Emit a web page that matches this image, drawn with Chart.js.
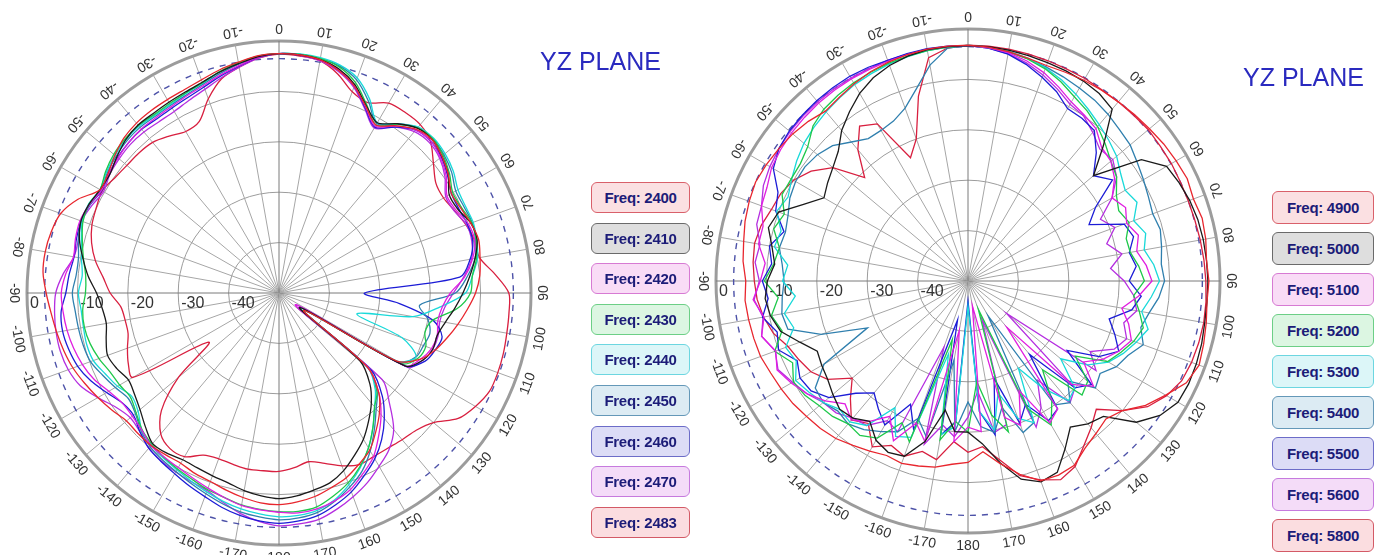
<!DOCTYPE html>
<html>
<head>
<meta charset="utf-8">
<script src="https://cdn.jsdelivr.net/npm/chart.js@4.4.1/dist/chart.umd.min.js"></script>
<style>
  html, body { margin: 0; padding: 0; overflow: hidden; background: #fff; }
  body { width: 1384px; height: 555px; position: relative; }
  .plot { position: absolute; width: 560px; height: 560px; }
  .title { position: absolute; font: 25px "Liberation Sans", Arial, sans-serif; color: #2a2abf; white-space: nowrap; }
  .key { position: absolute; box-sizing: border-box; border: 1.5px solid; border-radius: 6px;
         font: bold 15px "Liberation Sans Narrow", "Liberation Sans", sans-serif; color: #1c1c78;
         display: flex; align-items: center; justify-content: center; letter-spacing: -0.3px; }
</style>
</head>
<body>
<div class="plot" id="leftBox" style="left:-1px; top:13px;"><canvas id="leftPlot" width="560" height="560"></canvas></div>
<div class="plot" id="rightBox" style="left:688px; top:1px;"><canvas id="rightPlot" width="560" height="560"></canvas></div>
<div class="title" style="left:540px; top:47px;">YZ PLANE</div>
<div class="title" style="left:1243px; top:63px;">YZ PLANE</div>
<div id="leftKeys"></div>
<div id="rightKeys"></div>

<script>
// Angle categories (degrees, clockwise from top), tick labels
const angles = Array.from({length: 72}, (_, i) => i * 5);
const angleTicks = [0,10,20,30,40,50,60,70,80,90,100,110,120,130,140,150,160,170,180,
                    -170,-160,-150,-140,-130,-120,-110,-100,-90,-80,-70,-60,-50,-40,-30,-20,-10];
const ringTicks = [0, -10, -20, -30, -40];
const dashLevel = -3.5;

// 2.4 GHz band, values in dB every 5 degrees (0..355)
const freqLeft = ['Freq: 2400','Freq: 2410','Freq: 2420','Freq: 2430','Freq: 2440','Freq: 2450','Freq: 2460','Freq: 2470','Freq: 2483'];
const f2400 = [-2.5,-2.6,-3.0,-4.3,-6.3,-9.2,-11.5,-9.5,-7.6,-7.0,-7.8,-9.0,
  -10.5,-10.2,-9.5,-9.0,-9.5,-10.0,-11.0,-12.5,-14.0,-15.5,-17.0,-19.0,
  -23.0,-44.0,-27.0,-22.0,-19.0,-16.5,-14.0,-12.5,-11.0,-10.0,-9.0,-8.4,
  -8.0,-8.2,-8.8,-9.5,-10.2,-10.5,-11.0,-10.8,-10.5,-10.5,-10.5,-9.5,
  -8.5,-7.5,-6.5,-5.8,-5.2,-4.6,-3.8,-3.0,-2.9,-3.2,-3.9,-6.0,
  -9.0,-8.6,-7.5,-6.5,-6.0,-5.8,-5.7,-5.5,-5.0,-4.2,-3.5,-2.7];
const f2410 = [-2.5,-2.6,-3.0,-4.0,-6.0,-9.0,-11.0,-9.0,-7.3,-7.0,-7.8,-9.0,
  -11.0,-10.8,-9.5,-9.3,-10.5,-12.0,-13.5,-15.0,-16.5,-17.5,-17.5,-18.5,
  -21.0,-45.0,-29.0,-24.5,-21.5,-19.0,-16.5,-14.5,-12.5,-11.0,-10.3,-9.6,
  -9.2,-9.6,-10.2,-11.0,-11.4,-11.7,-11.8,-11.2,-11.0,-12.5,-14.0,-15.0,
  -15.5,-14.5,-13.8,-14.5,-15.2,-14.8,-13.8,-12.0,-10.5,-9.0,-8.2,-8.4,
  -9.0,-9.0,-8.0,-7.0,-6.5,-6.5,-6.3,-6.0,-5.5,-4.6,-3.8,-2.9];
const f2420 = [-2.5,-2.6,-3.1,-4.2,-6.3,-9.3,-11.8,-9.5,-7.8,-7.4,-8.2,-9.5,
  -11.5,-11.2,-10.0,-9.8,-11.0,-13.0,-16.0,-17.5,-18.0,-17.5,-17.8,-19.0,
  -21.0,-46.0,-27.0,-22.0,-18.5,-15.5,-12.5,-10.5,-8.5,-7.3,-6.5,-6.2,
  -6.5,-6.8,-7.2,-8.0,-8.8,-9.5,-10.0,-10.3,-10.5,-11.5,-12.0,-12.0,
  -11.0,-9.5,-8.5,-7.8,-7.3,-7.0,-6.8,-7.5,-8.6,-8.2,-8.0,-8.5,
  -9.3,-8.8,-8.3,-7.8,-7.5,-7.5,-7.3,-6.8,-6.2,-5.2,-4.2,-3.0];
const f2430 = [-2.5,-2.5,-2.8,-3.6,-5.6,-8.8,-11.5,-9.2,-7.2,-6.8,-7.5,-8.7,
  -10.2,-10.0,-9.3,-9.5,-10.2,-11.5,-12.0,-14.5,-19.0,-20.0,-19.0,-19.5,
  -22.0,-44.0,-27.0,-22.5,-20.5,-17.5,-14.5,-12.0,-9.9,-8.3,-6.9,-6.5,
  -6.6,-6.9,-7.3,-8.0,-8.5,-9.2,-9.7,-10.2,-10.8,-11.6,-13.0,-14.0,
  -13.5,-13.0,-12.0,-11.2,-10.8,-10.9,-11.6,-11.5,-10.6,-9.6,-8.6,-8.4,
  -9.0,-8.0,-7.2,-6.8,-6.6,-6.8,-6.6,-6.2,-5.6,-4.5,-3.6,-2.8];
const f2440 = [-2.5,-2.4,-2.6,-3.2,-4.6,-7.5,-11.0,-9.0,-7.0,-6.6,-7.0,-7.8,
  -9.0,-9.2,-9.0,-9.4,-10.0,-11.5,-13.0,-18.0,-23.0,-34.0,-24.0,-20.0,
  -23.0,-45.0,-27.0,-23.0,-20.5,-17.5,-14.5,-11.8,-9.5,-7.5,-6.2,-5.7,
  -5.6,-6.0,-6.5,-7.2,-8.0,-8.8,-9.5,-10.0,-10.6,-11.5,-13.5,-14.3,
  -13.0,-12.0,-10.8,-10.5,-10.6,-10.6,-10.2,-10.8,-10.2,-9.4,-8.4,-8.3,
  -9.0,-8.2,-7.5,-7.0,-6.8,-7.0,-6.8,-6.3,-5.7,-4.6,-3.7,-2.8];
const f2450 = [-2.5,-2.5,-2.8,-3.4,-5.0,-8.0,-11.2,-9.0,-7.2,-6.8,-7.3,-8.2,
  -9.5,-9.5,-9.2,-9.6,-10.5,-12.5,-15.0,-22.0,-20.0,-19.0,-19.5,-20.0,
  -22.5,-45.0,-27.0,-22.5,-20.0,-17.0,-13.8,-11.0,-9.0,-7.2,-5.8,-5.2,
  -5.0,-5.4,-5.9,-6.7,-7.6,-8.4,-9.1,-9.6,-10.2,-11.3,-12.8,-13.5,
  -12.5,-11.4,-10.2,-9.8,-9.6,-9.4,-9.0,-9.6,-9.6,-8.8,-8.2,-8.6,
  -9.2,-8.4,-7.8,-7.3,-7.1,-7.2,-7.0,-6.6,-5.9,-4.9,-3.9,-2.9];
const f2460 = [-2.5,-2.6,-3.0,-4.2,-6.3,-9.5,-12.0,-9.8,-7.8,-7.4,-8.0,-9.2,
  -10.5,-10.6,-10.2,-10.2,-11.5,-14.0,-33.0,-26.0,-19.0,-16.5,-17.0,-18.0,
  -21.0,-44.0,-26.0,-21.0,-17.5,-14.5,-12.0,-10.0,-8.0,-6.5,-5.2,-4.6,
  -4.3,-4.6,-5.2,-6.0,-7.0,-7.8,-8.6,-9.2,-9.8,-11.0,-12.3,-12.0,
  -10.5,-8.8,-7.5,-6.8,-6.4,-6.6,-7.7,-8.2,-8.7,-8.4,-8.2,-8.6,
  -9.4,-8.8,-8.2,-7.8,-7.6,-7.8,-7.6,-7.2,-6.5,-5.4,-4.3,-3.0];
const f2470 = [-2.5,-2.7,-3.2,-4.5,-6.6,-9.7,-12.2,-9.8,-8.2,-7.8,-8.4,-9.8,
  -11.8,-11.6,-10.4,-10.4,-11.2,-13.2,-15.4,-17.0,-17.6,-17.3,-17.5,-18.5,
  -20.5,-46.0,-23.3,-19.0,-14.6,-12.0,-10.3,-8.5,-7.0,-5.6,-4.4,-4.0,
  -3.8,-4.5,-5.6,-7.0,-8.3,-8.7,-9.0,-9.3,-9.8,-11.0,-11.5,-10.5,
  -8.5,-6.5,-5.5,-5.1,-5.1,-5.3,-5.7,-7.0,-8.7,-8.8,-8.3,-9.0,
  -9.8,-9.0,-8.6,-8.3,-8.3,-8.5,-8.4,-7.8,-7.0,-5.8,-4.5,-3.2];
const f2483 = [-2.6,-2.8,-3.2,-5.0,-7.5,-8.3,-6.5,-6.3,-6.4,-7.5,-10.0,-12.0,
  -12.3,-11.5,-10.5,-9.8,-9.6,-7.0,-4.4,-4.2,-4.1,-3.9,-3.8,-3.9,
  -5.0,-6.6,-10.0,-11.5,-12.0,-12.4,-12.5,-12.4,-13.5,-15.0,-16.0,-15.2,
  -14.6,-14.6,-14.5,-14.8,-15.0,-14.5,-12.5,-12.3,-13.5,-17.0,-24.0,-33.0,
  -16.5,-17.0,-18.0,-19.0,-19.0,-18.5,-16.5,-15.0,-13.0,-11.5,-10.5,-10.0,
  -9.5,-10.2,-10.6,-10.7,-11.0,-12.0,-13.0,-12.5,-9.0,-6.0,-4.5,-3.2];

// 5 GHz band
const freqRight = ['Freq: 4900','Freq: 5000','Freq: 5100','Freq: 5200','Freq: 5300','Freq: 5400','Freq: 5500','Freq: 5600','Freq: 5800'];
const r4900 = [-3.2,-3.4,-3.8,-4.2,-4.5,-4.3,-4.0,-3.8,-3.6,-3.3,-3.0,-2.6,
  -2.3,-2.0,-2.4,-1.9,-2.1,-2.5,-2.2,-2.4,-2.0,-1.6,-1.2,-2.2,
  -4.7,-7.0,-10.0,-11.3,-10.5,-9.5,-7.8,-7.5,-7.8,-10.3,-13.2,-16.0,
  -14.0,-13.5,-12.5,-12.0,-11.5,-11.8,-11.0,-10.2,-9.2,-8.6,-8.2,-7.6,
  -7.2,-6.8,-6.2,-6.0,-5.8,-5.6,-5.9,-5.2,-4.8,-4.2,-3.8,-3.5,
  -3.8,-4.2,-4.6,-5.2,-6.0,-5.5,-4.8,-4.2,-3.8,-3.5,-3.3,-3.2];
const r5000 = [-3.3,-3.3,-3.5,-3.7,-3.9,-4.0,-4.2,-4.6,-5.5,-12.0,-17.5,-8.0,
  -4.5,-3.8,-3.2,-2.8,-2.6,-2.5,-2.4,-2.4,-2.3,-2.0,-1.8,-1.7,
  -1.9,-3.5,-6.4,-12.0,-13.0,-14.6,-11.5,-8.1,-7.6,-9.3,-13.4,-17.6,
  -20.0,-20.0,-24.0,-17.0,-13.0,-12.5,-13.5,-16.0,-14.5,-14.0,-15.0,-16.0,
  -16.5,-17.0,-14.5,-11.5,-10.2,-9.6,-10.2,-11.5,-10.5,-9.0,-10.0,-14.0,
  -17.0,-16.0,-15.0,-13.6,-11.0,-9.0,-7.0,-5.5,-4.5,-3.8,-3.4,-3.3];
const r5100 = [-3.3,-3.5,-4.0,-4.8,-6.0,-7.5,-9.0,-9.8,-10.5,-12.5,-13.0,-14.5,
  -17.0,-15.5,-16.5,-15.0,-16.0,-14.5,-13.5,-16.0,-19.0,-17.0,-15.5,-17.0,
  -19.0,-22.0,-17.5,-21.0,-38.0,-19.0,-17.5,-26.0,-19.5,-22.0,-45.0,-20.0,
  -21.0,-18.0,-40.0,-17.0,-20.0,-15.0,-19.0,-16.0,-14.0,-15.5,-13.0,-11.0,
  -9.5,-8.2,-9.4,-7.6,-8.9,-7.2,-8.8,-9.6,-7.8,-7.9,-6.4,-6.0,
  -5.0,-4.6,-4.3,-4.1,-3.9,-3.8,-3.7,-3.7,-3.6,-3.5,-3.4,-3.3];
const r5200 = [-3.3,-3.5,-3.8,-4.4,-5.2,-6.4,-7.8,-8.8,-10.0,-11.5,-13.0,-14.0,
  -16.0,-17.0,-16.0,-17.5,-17.3,-16.0,-15.0,-17.0,-15.5,-14.0,-15.0,-16.5,
  -18.0,-24.0,-19.0,-18.0,-27.0,-21.0,-17.0,-22.0,-44.0,-19.0,-23.0,-30.0,
  -20.0,-22.0,-18.0,-38.0,-16.0,-19.0,-14.0,-12.6,-13.0,-12.0,-11.5,-10.5,
  -10.0,-11.6,-9.2,-11.8,-10.4,-12.2,-9.6,-11.3,-12.0,-10.1,-11.2,-9.3,
  -9.5,-9.4,-8.5,-6.5,-5.5,-5.0,-4.6,-4.3,-4.0,-3.8,-3.6,-3.4];
const r5300 = [-3.2,-3.4,-3.7,-4.2,-5.0,-6.0,-7.2,-8.4,-9.5,-10.5,-11.5,-13.0,
  -14.0,-13.0,-15.0,-13.5,-14.5,-13.0,-12.0,-13.5,-15.0,-13.0,-14.5,-16.0,
  -17.8,-21.0,-26.0,-20.0,-19.0,-24.0,-30.0,-19.0,-21.0,-27.0,-20.0,-24.0,
  -45.0,-21.0,-19.0,-35.0,-17.0,-16.0,-21.0,-15.0,-13.5,-14.0,-12.5,-11.5,
  -10.5,-12.4,-11.5,-14.2,-13.0,-15.6,-13.2,-14.1,-11.0,-11.6,-9.6,-10.6,
  -9.6,-8.5,-7.5,-6.8,-6.2,-5.6,-5.0,-4.6,-4.2,-3.9,-3.6,-3.4];
const r5400 = [-3.3,-3.5,-3.9,-4.3,-4.8,-5.3,-5.8,-6.2,-6.8,-7.5,-8.0,-9.0,
  -9.8,-10.5,-11.0,-10.5,-11.0,-11.5,-11.0,-12.0,-13.5,-14.5,-13.0,-15.0,
  -16.0,-18.0,-17.0,-22.0,-18.5,-20.0,-42.0,-19.0,-18.0,-24.0,-19.5,-21.0,
  -26.0,-20.0,-34.0,-18.0,-21.0,-17.0,-15.5,-14.0,-13.0,-13.5,-12.5,-13.0,
  -17.0,-28.0,-19.0,-13.0,-12.5,-13.0,-13.5,-13.0,-12.0,-12.5,-12.0,-11.0,
  -10.5,-10.5,-11.0,-12.0,-14.0,-15.5,-15.5,-15.0,-13.5,-10.5,-6.5,-3.6];
const r5500 = [-3.3,-3.6,-4.3,-5.5,-7.0,-8.5,-10.5,-10.6,-11.0,-14.0,-17.5,-15.0,
  -20.8,-23.5,-17.0,-16.0,-17.5,-16.5,-18.0,-15.5,-17.0,-21.0,-19.0,-17.0,
  -20.0,-26.0,-18.0,-20.0,-31.0,-19.0,-18.0,-23.0,-20.0,-30.0,-19.0,-24.0,
  -46.0,-22.0,-19.0,-42.0,-18.5,-23.0,-17.0,-19.0,-21.0,-18.5,-14.0,-12.0,
  -11.5,-12.6,-10.0,-10.8,-8.6,-10.2,-9.2,-10.9,-10.0,-12.2,-9.4,-8.4,
  -5.4,-4.2,-3.7,-3.5,-3.3,-3.2,-3.1,-3.2,-3.4,-3.3,-3.2,-3.2];
const r5600 = [-3.3,-3.6,-4.2,-5.2,-6.5,-8.0,-9.5,-10.0,-11.5,-13.0,-12.5,-14.0,
  -17.0,-21.0,-19.0,-21.5,-19.0,-21.6,-19.0,-17.0,-16.0,-18.0,-16.5,-18.0,
  -22.0,-19.0,-40.0,-20.0,-18.5,-26.0,-21.0,-18.0,-42.0,-20.5,-19.5,-28.0,
  -23.0,-19.0,-21.0,-16.5,-36.0,-17.0,-18.0,-15.0,-14.5,-13.0,-12.5,-11.0,
  -9.8,-8.4,-9.3,-7.6,-8.7,-7.4,-8.6,-7.6,-8.1,-6.6,-6.4,-5.2,
  -4.6,-4.2,-3.9,-3.7,-3.6,-3.5,-3.5,-3.5,-3.4,-3.4,-3.3,-3.3];
const r5800 = [-3.2,-3.2,-3.3,-3.4,-3.5,-3.6,-3.6,-3.7,-3.6,-3.5,-3.3,-3.4,
  -3.4,-3.5,-3.5,-3.4,-3.2,-3.0,-2.8,-2.6,-2.5,-2.6,-2.8,-3.2,
  -4.5,-6.5,-10.0,-14.0,-12.0,-10.0,-7.5,-6.5,-8.0,-10.0,-14.0,-17.0,
  -16.0,-18.0,-14.0,-15.0,-13.0,-14.0,-12.0,-15.5,-14.0,-17.0,-20.0,-16.0,
  -14.0,-13.0,-12.0,-10.0,-8.8,-8.0,-7.6,-7.2,-7.0,-7.5,-8.5,-9.0,
  -10.0,-12.0,-15.0,-21.0,-16.0,-12.5,-14.0,-23.0,-20.0,-12.0,-5.0,-3.6];

// line colours and legend box tints, same order as the frequencies
const lineColors = ['#e8262e','#1a1a1a','#e01ee0','#1ec84a','#19d9d9','#2f7fae','#1c1cd6','#b52ee0','#d81f3f'];
const boxFills   = ['#fbe0e2','#dedede','#f9dcf6','#dcf6e2','#dcf6f8','#dcebf3','#dcdcf6','#f4dcf8','#fbdde0'];
const boxBorders = ['#d9606a','#6a6a6a','#d77ad3','#6ccf86','#6cd6e0','#6498b8','#6c6cc8','#c67ade','#d35a66'];

// rings, spoke labels and the dashed circle
const polarDecor = {
  id: 'polarDecor',
  beforeDatasetsDraw(chart) {
    const s = chart.scales.r;
    const ctx = chart.ctx;
    ctx.save();
    ctx.strokeStyle = '#4d52a8';
    ctx.lineWidth = 1.4;
    ctx.setLineDash([6, 6]);
    ctx.beginPath();
    ctx.arc(s.xCenter, s.yCenter, s.getDistanceFromCenterForValue(dashLevel), 0, Math.PI * 2);
    ctx.stroke();
    ctx.setLineDash([]);

    ctx.fillStyle = '#333';
    ctx.font = '16px "Liberation Sans", Arial, sans-serif';
    ctx.textAlign = 'left';
    ctx.textBaseline = 'middle';
    ringTicks.forEach(v => {
      const d = s.getDistanceFromCenterForValue(v);
      ctx.fillText(String(v), s.xCenter - d + 3, s.yCenter + 11);
    });

    ctx.font = '14px "Liberation Sans", Arial, sans-serif';
    ctx.textAlign = 'center';
    const rr = s.drawingArea + 13;
    angleTicks.forEach(a => {
      const rad = a * Math.PI / 180;
      ctx.save();
      ctx.translate(s.xCenter + Math.sin(rad) * rr, s.yCenter - Math.cos(rad) * rr);
      ctx.rotate(rad + Math.PI);
      ctx.fillText(String(a), 0, 0);
      ctx.restore();
    });
    ctx.restore();
  }
};

function makePolar(canvasId, names, series, tension) {
  return new Chart(document.getElementById(canvasId), {
    type: 'radar',
    data: {
      labels: angles,
      datasets: series.map((vals, i) => ({
        label: names[i],
        data: vals,
        borderColor: lineColors[i],
        borderWidth: 1.3,
        pointRadius: 0,
        fill: false,
        tension: tension
      }))
    },
    options: {
      responsive: false,
      animation: false,
      layout: { padding: 28 },
      plugins: { legend: { display: false }, tooltip: { enabled: false } },
      scales: {
        r: {
          min: -50,
          max: 0,
          ticks: { display: false, stepSize: 10 },
          pointLabels: { display: false },
          grid: {
            circular: true,
            color: '#9c9c9c',
            lineWidth: c => c.tick && c.tick.value === 0 ? 3 : 1
          },
          angleLines: {
            color: c => c.index % 18 === 0 ? '#7a7a7a' : '#a6a6a6',
            lineWidth: c => c.index % 2 ? 0 : 1
          }
        }
      }
    },
    plugins: [polarDecor]
  });
}

makePolar('leftPlot', freqLeft, [f2400, f2410, f2420, f2430, f2440, f2450, f2460, f2470, f2483], 0.3);
makePolar('rightPlot', freqRight, [r4900, r5000, r5100, r5200, r5300, r5400, r5500, r5600, r5800], 0);

// legend boxes
function makeKeys(holderId, names, x, y0, step, w, h) {
  const holder = document.getElementById(holderId);
  names.forEach((name, i) => {
    const d = document.createElement('div');
    d.className = 'key';
    d.textContent = name;
    d.style.left = x + 'px';
    d.style.top = (y0 + i * step) + 'px';
    d.style.width = w + 'px';
    d.style.height = h + 'px';
    d.style.background = boxFills[i];
    d.style.borderColor = boxBorders[i];
    holder.appendChild(d);
  });
}
makeKeys('leftKeys', freqLeft, 591, 182, 40.6, 99, 31);
makeKeys('rightKeys', freqRight, 1272, 191, 41, 102, 33);
</script>
</body>
</html>
